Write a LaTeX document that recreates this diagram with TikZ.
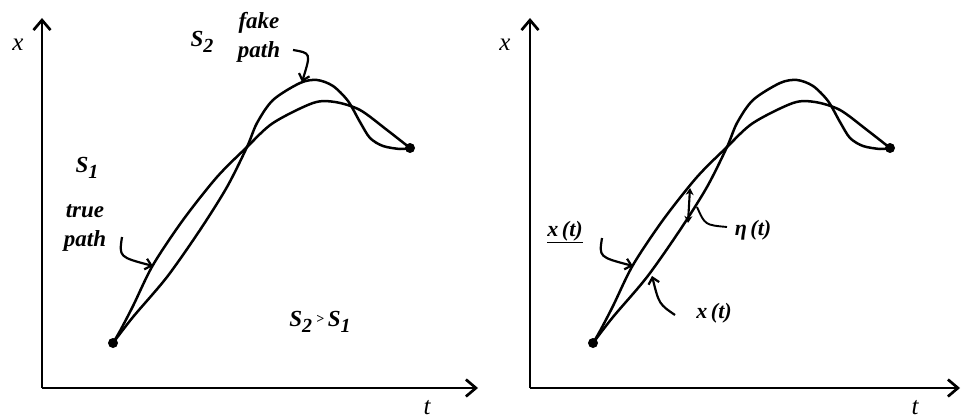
\documentclass[tikz,border=0pt]{standalone}
\usepackage{fontspec}
\setmainfont{Liberation Serif}
\usetikzlibrary{arrows.meta}
\tikzset{
  axis/.style={line width=2.7pt,-{Straight Barb[length=10pt,width=17pt,line width=2.7pt]}},
  curve/.style={line width=2.5pt,line cap=round},
  pointer/.style={line width=2.2pt,-{Straight Barb[length=6pt,width=11pt,line width=2.2pt]}},
  lbl/.style={font=\fontsize{23}{29}\selectfont\bfseries\itshape,inner sep=0pt},
  flbl/.style={font=\fontsize{22}{26}\selectfont\bfseries\itshape,inner sep=0pt},
  slbl/.style={font=\fontsize{23}{25}\selectfont\bfseries\itshape,inner sep=0pt},
  axlbl/.style={font=\fontsize{25}{27}\selectfont\itshape,inner sep=0pt},
  dot/.style={circle,fill=black,inner sep=0pt,minimum size=10pt}
}
\newcommand{\sub}[1]{\raisebox{-6pt}{\fontsize{20}{20}\selectfont #1}}
\newcommand{\truecurve}{(113,343) (120,331) (133,306) (153,265) (183,220) (217,177) (247,147) (273,123) (313,103) (335,102) (360,110) (387,130) (410,148)}
\newcommand{\fakecurve}{(113,343) (133,317) (167,277) (200,230) (227,187) (247,147) (257,123) (273,100) (300,83) (317,80) (333,86) (348,101) (360,122) (370,138) (383,146) (400,149) (410,148)}
\begin{document}
\begin{tikzpicture}[x=1pt,y=-1pt]
\useasboundingbox (0,0) rectangle (961,420);
% ---------------- left panel ----------------
\coordinate (LO) at (42,388);
\coordinate (LY) at (42,18);
\coordinate (LX) at (478,388);
\draw[axis] (LO) -- (LY);
\draw[axis] (LO) -- (LX);
\node[axlbl] (lx) at (18,45) {x};
\node[axlbl] (lt) at (427,408) {t};
\draw[curve] plot[smooth,tension=0.5] coordinates {\truecurve};
\draw[curve] plot[smooth,tension=0.5] coordinates {\fakecurve};
\node[dot] (ls) at (113,343) {};
\node[dot] (le) at (410,148) {};
\node[slbl] (s2) at (202,42) {S\sub{2}};
\node[lbl,align=center] (fake) at (259,37) {fake\\path};
\coordinate (fakeA) at (293,50);
\coordinate (fakeB) at (302,82);
\draw[pointer] (fakeA) .. controls (311,53) .. (fakeB);
\node[slbl] (s1) at (87,168) {S\sub{1}};
\node[lbl,align=center] (true) at (85,228) {true\\path};
\coordinate (trueA) at (122,237);
\coordinate (trueB) at (153,266);
\draw[pointer] (trueA) .. controls (119,257) .. (trueB);
\node[slbl] (cmp) at (320,322) {S\sub{2}\,\raisebox{3pt}{\fontsize{14}{14}\selectfont >}\,S\sub{1}};
% ---------------- right panel ----------------
\coordinate (RO) at (530,388);
\coordinate (RY) at (530,18);
\coordinate (RX) at (960,388);
\draw[axis] (RO) -- (RY);
\draw[axis] (RO) -- (RX);
\node[axlbl] (rx) at (505,45) {x};
\node[axlbl] (rt) at (915,408) {t};
\begin{scope}[xshift=480]
\draw[curve] plot[smooth,tension=0.5] coordinates {\truecurve};
\draw[curve] plot[smooth,tension=0.5] coordinates {\fakecurve};
\node[dot] (rs) at (113,343) {};
\node[dot] (re) at (410,148) {};
\end{scope}
\node[flbl] (xt1) at (565,232) {\underline{x\,(t)}};
\coordinate (xtA) at (602,238);
\coordinate (xtB) at (633,266);
\draw[pointer] (xtA) .. controls (599,257) .. (xtB);
\node[flbl] (eta) at (753,230) {η\,(t)};
\coordinate (etaA) at (727,227);
\coordinate (etaB) at (697,207);
\draw[line width=1.9pt] (etaA) .. controls (705,225) .. (etaB);
\coordinate (dA) at (690,188);
\coordinate (dB) at (688,223);
\draw[line width=2.1pt,{Stealth[length=7pt,width=8pt]}-{Stealth[length=7pt,width=8pt]}] (dA) -- (dB);
\node[flbl] (xt2) at (714,313) {x\,(t)};
\coordinate (xlA) at (675,315);
\coordinate (xlB) at (652,276);
\draw[pointer] (xlA) .. controls (659,304) .. (xlB);
\end{tikzpicture}
\end{document}
